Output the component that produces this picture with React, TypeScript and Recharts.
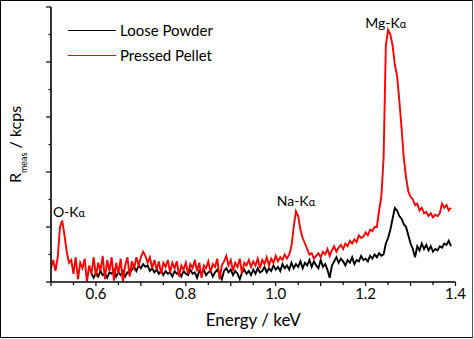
import React from 'react';
import { LineChart, Line, XAxis, YAxis, Legend, ReferenceDot, Label } from 'recharts';

const energy = [
  0.5, 0.505, 0.51, 0.515, 0.52, 0.525, 0.53, 0.535, 0.54, 0.545,
  0.55, 0.555, 0.56, 0.565, 0.57, 0.575, 0.58, 0.585, 0.59, 0.595,
  0.6, 0.605, 0.61, 0.615, 0.62, 0.625, 0.63, 0.635, 0.64, 0.645,
  0.65, 0.655, 0.66, 0.665, 0.67, 0.675, 0.68, 0.685, 0.69, 0.695,
  0.7, 0.705, 0.71, 0.715, 0.72, 0.725, 0.73, 0.735, 0.74, 0.745,
  0.75, 0.755, 0.76, 0.765, 0.77, 0.775, 0.78, 0.785, 0.79, 0.795,
  0.8, 0.805, 0.81, 0.815, 0.82, 0.825, 0.83, 0.835, 0.84, 0.845,
  0.85, 0.855, 0.86, 0.865, 0.87, 0.875, 0.88, 0.885, 0.89, 0.895,
  0.9, 0.905, 0.91, 0.915, 0.92, 0.925, 0.93, 0.935, 0.94, 0.945,
  0.95, 0.955, 0.96, 0.965, 0.97, 0.975, 0.98, 0.985, 0.99, 0.995,
  1.0, 1.005, 1.01, 1.015, 1.02, 1.025, 1.03, 1.035, 1.04, 1.045,
  1.05, 1.055, 1.06, 1.065, 1.07, 1.075, 1.08, 1.085, 1.09, 1.095,
  1.1, 1.105, 1.11, 1.115, 1.12, 1.125, 1.13, 1.135, 1.14, 1.145,
  1.15, 1.155, 1.16, 1.165, 1.17, 1.175, 1.18, 1.185, 1.19, 1.195,
  1.2, 1.205, 1.21, 1.215, 1.22, 1.225, 1.23, 1.235, 1.24, 1.245,
  1.25, 1.255, 1.26, 1.265, 1.27, 1.275, 1.28, 1.285, 1.29, 1.295,
  1.3, 1.305, 1.31, 1.315, 1.32, 1.325, 1.33, 1.335, 1.34, 1.345,
  1.35, 1.355, 1.36, 1.365, 1.37, 1.375, 1.38, 1.385, 1.39,
];

const loosePowder: (number | null)[] = [
  null, null, null, null, null, null, null, null, null, null,
  null, null, null, null, null, null, null, null, 0.3, 0.15,
  0.35, 0.2, 0.4, 0.25, 0.3, 0.15, 0.35, 0.3, 0.45, 0.2,
  0.35, 0.25, 0.4, 0.2, 0.35, 0.3, 0.45, 0.55, 0.4, 0.6,
  0.5, 0.65, 0.55, 0.6, 0.4, 0.5, 0.35, 0.45, 0.3, 0.4,
  0.25, 0.4, 0.3, 0.35, 0.2, 0.4, 0.3, 0.35, 0.2, 0.4,
  0.3, 0.25, 0.45, 0.3, 0.35, 0.15, 0.4, 0.3, 0.45, 0.25,
  0.35, 0.4, 0.2, 0.35, 0.45, 0.3, 0.1, 0.4, 0.5, 0.35,
  0.45, 0.25, 0.4, 0.3, 0.1, 0.35, 0.45, 0.3, 0.4, 0.25,
  0.45, 0.3, 0.5, 0.35, 0.4, 0.55, 0.35, 0.5, 0.4, 0.6,
  0.45, 0.55, 0.4, 0.65, 0.5, 0.6, 0.45, 0.7, 0.5, 0.65,
  0.55, 0.75, 0.5, 0.7, 0.6, 0.8, 0.55, 0.75, 0.6, 0.5,
  0.8, 0.55, 0.65, 0.45, 0.15, 0.6, 0.75, 0.9, 0.7, 0.85,
  0.75, 0.6, 0.8, 0.7, 0.9, 0.65, 0.8, 0.75, 0.95, 0.8,
  0.85, 0.75, 0.95, 0.85, 1.0, 0.9, 1.05, 0.95, 1.0, 1.4,
  1.6, 1.9, 2.3, 2.69, 2.6, 2.4, 2.3, 2.1, 2.0, 1.7,
  1.4, 1.2, 0.9, 1.3, 1.15, 1.4, 1.2, 1.35, 1.15, 1.3,
  1.1, 1.2, 1.15, 1.3, 1.25, 1.4, 1.35, 1.5, 1.3,
];

const pressedPellet = [
  0.5, 0.8, 0.4, 0.9, 2.0, 2.23, 1.7, 1.1, 0.7, 0.8,
  0.3, 0.9, 0.1, 0.7, 0.5, 0.85, 0.0, 0.6, 0.3, 0.9,
  0.2, 0.7, 0.4, 0.95, 0.1, 0.8, 0.4, 0.9, 0.05, 0.7,
  0.3, 0.85, 0.0, 0.6, 0.9, 0.2, 0.75, 0.5, 0.9, 0.6,
  0.9, 1.1, 0.95, 0.7, 0.9, 0.5, 0.8, 0.45, 0.75, 0.3,
  0.7, 0.55, 0.8, 0.35, 0.7, 0.5, 0.75, 0.2, 0.6, 0.45,
  0.7, 0.3, 0.65, 0.5, 0.8, 0.4, 0.7, 0.15, 0.6, 0.5,
  0.75, 0.35, 0.65, 0.55, 0.85, 0.1, 0.6, 0.75, 0.95, 0.6,
  0.8, 0.4, 0.7, 0.55, 0.85, 0.3, 0.7, 0.6, 0.8, 0.55,
  0.75, 0.6, 0.85, 0.5, 0.8, 0.65, 0.9, 0.6, 0.85, 0.7,
  0.95, 0.75, 0.9, 0.8, 1.0, 0.85, 1.0, 1.3, 2.0, 2.57,
  2.4, 1.9, 1.6, 1.4, 1.2, 1.0, 1.05, 0.85, 0.95, 1.05,
  0.9, 1.1, 1.0, 1.2, 0.95, 1.15, 1.3, 1.1, 1.25, 1.35,
  1.2, 1.4, 1.3, 1.5, 1.4, 1.55, 1.45, 1.7, 1.6, 1.65,
  1.8, 1.7, 1.9, 1.85, 2.0, 2.0, 2.6, 3.1, 4.5, 8.6,
  9.17, 9.0, 8.6, 7.9, 7.5, 6.6, 5.6, 4.5, 3.8, 3.3,
  3.1, 3.0, 2.8, 2.85, 2.6, 2.7, 2.5, 2.55, 2.4, 2.5,
  2.35, 2.45, 2.4, 2.5, 2.85, 2.7, 2.8, 2.6, 2.7,
];

const xTicks = [
  0.5, 0.55, 0.6, 0.65, 0.7, 0.75, 0.8, 0.85, 0.9, 0.95,
  1.0, 1.05, 1.1, 1.15, 1.2, 1.25, 1.3, 1.35, 1.4,
];
const xTickLabels = ['0.6', '0.8', '1.0', '1.2', '1.4'];
const yTicks = [0, 1, 2, 3, 4, 5, 6, 7, 8, 9, 10];
const yMajorTicks = [0, 2, 4, 6, 8, 10];

const peakNames = ['O-K', 'Na-K', 'Mg-K'];
const peakLabelEnergy = [0.54, 1.045, 1.245];
const peakLabelValue = [2.35, 2.77, 9.24];

const seriesNames = ['Loose Powder', 'Pressed Pellet'];
const seriesColors = ['#000000', '#ff0000'];

const data = energy.map((e, i) => ({ e, black: loosePowder[i], red: pressedPellet[i] }));

const FONT = 'Lato, "Open Sans", sans-serif';

const XTick = (props: any) => {
  const { x, y, payload } = props;
  const label = payload.value.toFixed(1);
  const isTenth = Math.abs(payload.value * 10 - Math.round(payload.value * 10)) < 1e-6;
  const major = isTenth && xTickLabels.includes(label);
  return (
    <g>
      <line x1={x} x2={x} y1={y} y2={y + (isTenth ? 4 : 3)} stroke="#000" strokeWidth={1.2} />
      {major && (
        <text x={x} y={y + 17} textAnchor="middle" fontFamily={FONT} fontSize={15} fill="#000">
          {label}
        </text>
      )}
    </g>
  );
};

const YTick = (props: any) => {
  const { x, y, payload } = props;
  const major = yMajorTicks.includes(payload.value);
  return <line x1={x - (major ? 5 : 2.5)} x2={x} y1={y} y2={y} stroke="#000" strokeWidth={1.2} />;
};

const XLabel = (props: any) => {
  const vb = props.viewBox || { x: 51, y: 282, width: 404.5, height: 57 };
  return (
    <text x={vb.x + vb.width / 2} y={vb.y + 44} textAnchor="middle" fontFamily={FONT} fontSize={17} fill="#000">
      Energy / keV
    </text>
  );
};

const YLabel = (props: any) => {
  const vb = props.viewBox || { x: 0, y: 7, width: 51, height: 275 };
  const cx = 21;
  const cy = vb.y + vb.height / 2;
  return (
    <text x={cx} y={cy} transform={`rotate(-90 ${cx} ${cy})`} textAnchor="middle" fontFamily={FONT} fontSize={16} fill="#000">
      <tspan>R</tspan>
      <tspan fontSize={9} dy={6}>meas</tspan>
      <tspan dy={-6}> / kcps</tspan>
    </text>
  );
};

const renderLegend = (props: any) => {
  const payload = props.payload || [];
  return (
    <div style={{ fontFamily: FONT, fontSize: 15, color: '#000' }}>
      {payload.map((entry: any, i: number) => (
        <div key={i} style={{ display: 'flex', alignItems: 'center', height: 25.3, lineHeight: '25px' }}>
          <span style={{ display: 'inline-block', width: 48, height: 0, borderTop: `1.8px solid ${entry.color}`, marginRight: 4 }} />
          <span>{entry.value}</span>
        </div>
      ))}
    </div>
  );
};

export default function App() {
  return (
    <div style={{ position: 'absolute', left: 0, top: 0, width: 474, height: 339, background: '#fff' }}>
      <LineChart width={474} height={339} data={data} margin={{ top: 7, right: 18.5, bottom: 0, left: 0 }}>
        <XAxis
          type="number"
          dataKey="e"
          domain={[0.5, 1.4]}
          ticks={xTicks}
          interval={0}
          allowDataOverflow
          tickSize={0}
          tickMargin={0}
          tickLine={false}
          tick={(p: any) => <XTick {...p} />}
          axisLine={{ stroke: '#000', strokeWidth: 1.6 }}
          height={57}
        >
          <Label content={XLabel} />
        </XAxis>
        <XAxis
          xAxisId="top"
          orientation="top"
          type="number"
          domain={[0.5, 1.4]}
          tick={false}
          tickLine={false}
          height={0}
          axisLine={{ stroke: '#000', strokeWidth: 1.6 }}
        />
        <YAxis
          type="number"
          domain={[0, 10]}
          ticks={yTicks}
          interval={0}
          allowDataOverflow
          width={51}
          tickSize={0}
          tickMargin={0}
          tickLine={false}
          tick={(p: any) => <YTick {...p} />}
          axisLine={{ stroke: '#000', strokeWidth: 1.6 }}
        >
          <Label content={YLabel} />
        </YAxis>
        <YAxis
          yAxisId="right"
          orientation="right"
          type="number"
          domain={[0, 10]}
          width={0}
          tick={false}
          tickLine={false}
          axisLine={{ stroke: '#000', strokeWidth: 1.6 }}
        />
        <Legend
          layout="vertical"
          align="center"
          verticalAlign="middle"
          content={renderLegend}
          wrapperStyle={{ position: 'absolute', left: 68, top: 18, width: 'auto' }}
        />
        <Line
          type="linear"
          dataKey="black"
          name={seriesNames[0]}
          stroke={seriesColors[0]}
          strokeWidth={1.9}
          dot={false}
          activeDot={false}
          isAnimationActive={false}
        />
        <Line
          type="linear"
          dataKey="red"
          name={seriesNames[1]}
          stroke={seriesColors[1]}
          strokeWidth={1.9}
          dot={false}
          activeDot={false}
          isAnimationActive={false}
        />
        {peakNames.map((name, i) => (
          <ReferenceDot
            key={name}
            x={peakLabelEnergy[i]}
            y={peakLabelValue[i]}
            r={0}
            ifOverflow="visible"
            shape={(p: any) => (
              <text x={p.cx} y={p.cy} textAnchor="middle" fontFamily={FONT} fontSize={14} fill="#000">
                {name}
                <tspan fontSize={11}>α</tspan>
              </text>
            )}
          />
        ))}
      </LineChart>
      <div
        style={{
          position: 'absolute',
          left: 0,
          top: 0,
          width: 473,
          height: 338,
          boxSizing: 'border-box',
          border: '1px solid #000',
          borderRightColor: '#555',
          pointerEvents: 'none',
        }}
      />
    </div>
  );
}
